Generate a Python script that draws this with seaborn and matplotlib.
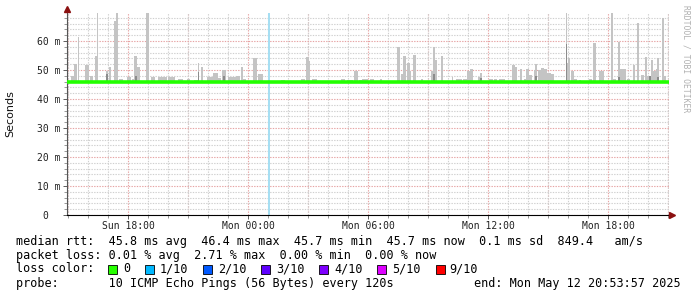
import matplotlib
matplotlib.use("Agg")
import matplotlib.pyplot as plt
import seaborn as sns
import pandas as pd
from matplotlib.ticker import MultipleLocator, FixedLocator
from matplotlib.patches import Rectangle

# ---------------- data (hours since Sun 00:00, values in ms) ----------------
median_hours = [14.95, 18.0, 21.0, 24.0, 27.0, 30.0, 33.0, 36.0, 39.0, 42.0, 45.05]
median_ms = [45.8, 45.8, 45.8, 45.8, 45.8, 45.8, 45.8, 45.8, 45.8, 45.8, 45.8]

smoke_hours = [15.215, 15.385, 15.515, 15.95, 16.15, 16.4, 16.465, 16.95, 17.1, 17.35,
               17.45, 17.65, 18.05, 18.275, 18.375, 18.5, 18.975, 19.25, 19.6, 19.85,
               20.1, 20.25, 20.6, 21.035, 21.4, 21.515, 21.7, 22.05, 22.1, 22.35,
               22.55, 22.8, 23.2, 23.5, 23.7, 23.825, 24.375, 24.625, 25.75, 26.775,
               26.975, 27.05, 27.35, 28.75, 29.1, 29.4, 29.65, 29.85, 30.225, 30.65,
               31.55, 31.75, 31.825, 32.025, 32.125, 32.35, 32.7, 33.25, 33.3, 33.375,
               33.7, 34.235, 34.55, 34.9, 35.05, 35.175, 35.575, 35.65, 36.15, 36.4,
               36.7, 37.3, 37.4, 37.65, 37.85, 37.975, 38.1, 38.35, 38.4, 38.575,
               38.7, 38.85, 39.05, 39.25, 39.925, 39.975, 40.05, 40.25, 40.4, 40.6,
               41.15, 41.35, 41.65, 41.75, 42.2, 42.35, 42.55, 42.65, 42.8, 43.05,
               43.3, 43.5, 43.75, 43.9, 44.05, 44.2, 44.35, 44.425, 44.5, 44.75, 44.825]
smoke_top_ms = [48.0, 52.0, 61.5, 51.7, 48.0, 55.0, 72.0, 49.8, 51.0, 67.0,
                72.0, 47.0, 47.5, 47.0, 54.8, 51.0, 72.0, 47.5, 47.5, 47.7,
                47.7, 47.7, 47.0, 46.9, 46.5, 52.3, 51.1, 46.5, 47.7, 48.9,
                47.2, 50.0, 47.5, 47.8, 50.9, 47.0, 54.0, 48.6, 46.4, 47.0,
                54.6, 53.0, 47.0, 47.0, 46.5, 49.6, 46.5, 46.8, 47.0, 47.0,
                58.0, 48.6, 54.8, 52.5, 49.5, 55.2, 47.0, 49.8, 58.0, 53.4,
                54.8, 47.5, 46.8, 47.0, 49.5, 50.3, 47.5, 49.0, 46.8, 47.0,
                46.8, 51.7, 51.0, 50.2, 47.0, 50.2, 48.3, 50.0, 52.0, 50.0,
                50.8, 50.2, 48.9, 48.6, 72.0, 52.3, 54.0, 49.6, 47.0, 46.5,
                47.0, 59.2, 49.6, 49.6, 72.0, 47.0, 59.8, 50.2, 50.2, 47.0,
                51.6, 66.3, 48.3, 54.6, 48.0, 53.4, 49.6, 50.2, 54.0, 67.8, 48.0]
smoke_width_h = [0.15, 0.15, 0.08, 0.2, 0.15, 0.15, 0.08, 0.15, 0.1, 0.15,
                 0.15, 0.2, 0.2, 0.15, 0.15, 0.2, 0.2, 0.2, 0.25, 0.2,
                 0.2, 0.2, 0.25, 0.15, 0.2, 0.08, 0.08, 0.15, 0.3, 0.25,
                 0.2, 0.2, 0.4, 0.2, 0.08, 0.15, 0.2, 0.25, 0.15, 0.2,
                 0.15, 0.15, 0.25, 0.2, 0.3, 0.15, 0.2, 0.3, 0.2, 0.1,
                 0.15, 0.2, 0.15, 0.15, 0.08, 0.15, 0.1, 0.15, 0.08, 0.15,
                 0.08, 0.08, 0.3, 0.25, 0.15, 0.15, 0.15, 0.08, 0.2, 0.15,
                 0.3, 0.15, 0.15, 0.08, 0.15, 0.15, 0.15, 0.15, 0.08, 0.15,
                 0.15, 0.15, 0.2, 0.15, 0.08, 0.15, 0.08, 0.15, 0.15, 0.1,
                 0.15, 0.15, 0.15, 0.15, 0.08, 0.15, 0.1, 0.15, 0.2, 0.15,
                 0.08, 0.08, 0.15, 0.08, 0.15, 0.08, 0.15, 0.1, 0.08, 0.08, 0.15]

dark_hours = [16.95, 18.4, 21.515, 22.8, 33.3, 35.65, 38.4, 39.925, 42.55, 44.1, 44.5]
dark_top_ms = [48.5, 48.0, 49.4, 47.8, 48.5, 47.2, 48.0, 59.0, 47.5, 48.0, 47.5]

loss_hours = [25.075]          # 1/10 loss event

xtick_hours = [18, 24, 30, 36, 42]
xtick_labels = ["Sun 18:00", "Mon 00:00", "Mon 06:00", "Mon 12:00", "Mon 18:00"]
ytick_ms = [0, 10, 20, 30, 40, 50, 60]
ytick_labels = ["0  ", "10 m", "20 m", "30 m", "40 m", "50 m", "60 m"]

loss_labels = ["0", "1/10", "2/10", "3/10", "4/10", "5/10", "9/10"]
loss_colors = ["#26ff00", "#00b8ff", "#0059ff", "#5e00ff", "#7e00ff", "#dd00ff", "#ff0000"]

legend_lines = [
    "median rtt:  45.8 ms avg  46.4 ms max  45.7 ms min  45.7 ms now  0.1 ms sd  849.4   am/s",
    "packet loss: 0.01 % avg  2.71 % max  0.00 % min  0.00 % now",
    "loss color:",
    "probe:       10 ICMP Echo Pings (56 Bytes) every 120s",
]
end_text = "end: Mon May 12 20:53:57 2025"

# ---------------- figure ----------------
sns.set_style("white")
plt.rcParams["font.family"] = ["DejaVu Sans Mono", "DejaVu Sans"]

W, H = 697, 297
fig = plt.figure(figsize=(W / 100, H / 100), dpi=100)
fig.patch.set_facecolor("white")
ax = fig.add_axes([67 / W, 82 / H, 602 / W, 202 / H])
ax.set_facecolor("white")

XMIN, XMAX = 14.95, 45.05
YMIN, YMAX = 0, 69.66
ax.set_xlim(XMIN, XMAX)
ax.set_ylim(YMIN, YMAX)

GRID_MINOR = "#cfcfcf"
GRID_MAJOR = "#e6a3a3"
DOT = (0, (1.2, 1.2))

# smoke
base = median_ms[0]
ax.bar(smoke_hours, [t - base for t in smoke_top_ms], bottom=base, width=smoke_width_h,
       color="#c4c4c4", linewidth=0, align="center", zorder=2)
ax.bar(dark_hours, [t - base for t in dark_top_ms], bottom=base, width=0.08,
       color="#8c8c8c", linewidth=0, zorder=2.1)

# loss marker
for h in loss_hours:
    ax.bar([h], [YMAX], bottom=0, width=0.1, color="#a6def2", linewidth=0, zorder=2.5)

# median line
df = pd.DataFrame({"hour": median_hours, "ms": median_ms})
sns.lineplot(data=df, x="hour", y="ms", ax=ax, color="#22ff00", linewidth=2.6, zorder=3)

# ticks and grid
ax.xaxis.set_major_locator(FixedLocator(xtick_hours))
ax.xaxis.set_minor_locator(MultipleLocator(1))
ax.set_xticklabels(xtick_labels)
ax.yaxis.set_major_locator(FixedLocator(ytick_ms))
ax.yaxis.set_minor_locator(MultipleLocator(2))
ax.set_yticklabels(ytick_labels)
ax.grid(False)
ax.grid(which="minor", color=GRID_MINOR, linestyle=DOT, linewidth=0.8)
ax.grid(which="major", axis="y", color=GRID_MAJOR, linestyle=DOT, linewidth=0.8)
for h in range(15, 46, 3):
    ax.axvline(h, color=GRID_MAJOR, linestyle=DOT, linewidth=0.8, zorder=0.5)
ax.set_axisbelow(True)

ax.tick_params(axis="both", which="major", labelsize=7, length=3, width=0.6,
               color="#444444", direction="out", pad=1.5, bottom=True, left=True)
ax.tick_params(axis="both", which="minor", length=2, width=0.6, color="#888888",
               direction="out", bottom=True, left=True)
for lab in ax.get_xticklabels() + ax.get_yticklabels():
    lab.set_family("DejaVu Sans Mono")
    lab.set_color("#222222")
ax.set_xlabel("")
ax.set_ylabel("")

for side in ["top", "right"]:
    ax.spines[side].set_visible(False)
ax.spines["left"].set_color("#555555")
ax.spines["bottom"].set_color("#000000")
ax.spines["left"].set_linewidth(0.8)
ax.spines["bottom"].set_linewidth(0.8)

# axis arrows
ax.plot([XMIN], [YMAX + 1.3], marker="^", markersize=4, color="#8b1010", clip_on=False, zorder=5)
ax.plot([XMAX + 0.15], [0], marker=">", markersize=4, color="#8b1010", clip_on=False, zorder=5)

# y label and watermark
fig.text(10 / W, 1 - 114 / H, "Seconds", rotation=90, ha="center", va="center",
         fontsize=8, family="DejaVu Sans", color="#111111")
fig.text(686 / W, 1 - 5 / H, "RRDTOOL / TOBI OETIKER", rotation=270, ha="center", va="top",
         fontsize=5.8, family="DejaVu Sans Mono", color="#b0b0b0")

# legend text
fs = 8.5
line_y = [241, 255, 269, 283]
for txt, yy in zip(legend_lines, line_y):
    fig.text(16 / W, 1 - yy / H, txt, ha="left", va="center", fontsize=fs,
             family="DejaVu Sans Mono", color="#000000")
fig.text(681 / W, 1 - 283 / H, end_text, ha="right", va="center", fontsize=fs,
         family="DejaVu Sans Mono", color="#000000")

sq_x = [108, 145, 203, 261, 319, 377, 436]
lab_x = [123, 160, 218, 276, 334, 392, 449]
for c, l, sx, lx in zip(loss_colors, loss_labels, sq_x, lab_x):
    fig.patches.append(Rectangle((sx / W, 1 - 274 / H), 9 / W, 9 / H, transform=fig.transFigure,
                                 facecolor=c, edgecolor="#000000", linewidth=0.6))
    fig.text(lx / W, 1 - 269 / H, l, ha="left", va="center", fontsize=fs,
             family="DejaVu Sans Mono", color="#000000")

fig.savefig("out.png", dpi=100, facecolor="white")
